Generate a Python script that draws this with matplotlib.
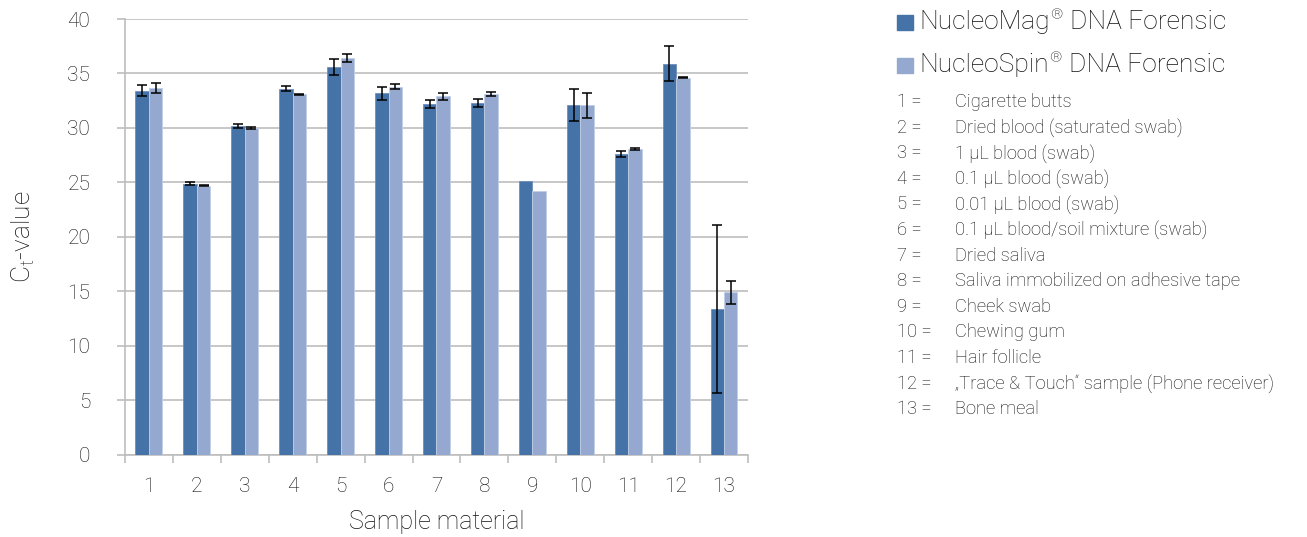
import numpy as np
import matplotlib
matplotlib.use("Agg")
import matplotlib.pyplot as plt
from matplotlib.patches import Rectangle

plt.rcParams['font.family'] = ['Roboto', 'DejaVu Sans']

samples = [str(i) for i in range(1, 14)]
mag = [33.4, 24.9, 30.2, 33.6, 35.6, 33.2, 32.2, 32.3, 25.1, 32.1, 27.6, 35.9, 13.4]
mag_err = [0.5, 0.1, 0.2, 0.25, 0.7, 0.6, 0.4, 0.4, np.nan, 1.45, 0.3, 1.6, 7.7]
spin = [33.7, 24.7, 30.0, 33.1, 36.4, 33.8, 32.9, 33.1, 24.2, 32.1, 28.1, 34.6, 14.9]
spin_err = [0.45, 0.05, 0.1, 0.05, 0.35, 0.2, 0.3, 0.2, np.nan, 1.15, 0.1, 0.05, 1.1]

series_names = ["NucleoMag", "NucleoSpin"]
sample_desc = [
    "Cigarette butts",
    "Dried blood (saturated swab)",
    "1 \u00b5L blood (swab)",
    "0.1 \u00b5L blood (swab)",
    "0.01 \u00b5L blood (swab)",
    "0.1 \u00b5L blood/soil mixture (swab)",
    "Dried saliva",
    "Saliva immobilized on adhesive tape",
    "Cheek swab",
    "Chewing gum",
    "Hair follicle",
    "\u201eTrace & Touch\u201c sample (Phone receiver)",
    "Bone meal",
]

c_mag = "#4573a7"
c_spin = "#95a9d0"
grid_c = "#bdbdbd"
txt_c = "#111111"

fig = plt.figure(figsize=(13.07, 5.37), dpi=100)
ax = fig.add_axes([0.0956, 0.153, 0.4767, 0.8116])

x = np.arange(len(samples))
w = 0.28
ekw = dict(ecolor="black", elinewidth=1.1, capsize=3.3, capthick=1.1)
ax.bar(x - w / 2, mag, w, yerr=mag_err, color=c_mag, edgecolor="#6f8fbb",
       linewidth=0.6, error_kw=ekw, zorder=3)
ax.bar(x + w / 2, spin, w, yerr=spin_err, color=c_spin, edgecolor="#c3cfe6",
       linewidth=0.6, error_kw=ekw, zorder=3)

ax.set_xlim(-0.5, len(samples) - 0.5)
ax.set_ylim(0, 40)
ax.set_yticks(range(0, 41, 5))
ax.yaxis.grid(True, color=grid_c, linewidth=1.2, zorder=0)
ax.set_axisbelow(True)

ax.set_xticks(x)
ax.set_xticklabels(samples)
ax.set_xticks(np.arange(-0.5, len(samples), 1.0), minor=True)
ax.tick_params(axis="x", which="major", length=0, pad=16, labelsize=15, labelcolor=txt_c)
ax.tick_params(axis="x", which="minor", length=6, width=1.2, color=grid_c, direction="out")
ax.tick_params(axis="y", length=6, width=1.2, color=grid_c, labelsize=15, labelcolor=txt_c, pad=19)
for lbl in ax.get_xticklabels() + ax.get_yticklabels():
    lbl.set_fontweight("light")

for s in ["top", "right"]:
    ax.spines[s].set_visible(False)
for s in ["left", "bottom"]:
    ax.spines[s].set_color(grid_c)
    ax.spines[s].set_linewidth(1.2)

ax.set_xlabel("Sample material", fontsize=18, color=txt_c, fontweight="light", labelpad=10)
ax.set_ylabel("C$_\\mathregular{t}$-value", fontsize=19, color=txt_c, fontweight="light", labelpad=22)

# legend
W, H = 1307.0, 537.0
fig.canvas.draw()
rend = fig.canvas.get_renderer()
for i, (name, col) in enumerate(zip(series_names, [c_mag, c_spin])):
    yc = 22 + i * 43
    fig.patches.append(Rectangle((897 / W, 1 - (yc + 8) / H), 15.5 / W, 15.5 / H,
                                 transform=fig.transFigure, color=col))
    t1 = fig.text(919 / W, 1 - yc / H, name, fontsize=19, color=txt_c,
                  fontweight="light", va="center", ha="left")
    x1 = t1.get_window_extent(rend).x1
    t2 = fig.text((x1 + 0.5) / W, 1 - (yc - 7) / H, "\u00ae", fontsize=11, color=txt_c,
                  fontweight="light", va="center", ha="left")
    x2 = t2.get_window_extent(rend).x1
    fig.text((x2 + 7) / W, 1 - yc / H, "DNA Forensic", fontsize=19, color=txt_c,
             fontweight="light", va="center", ha="left")

# sample list
for i, desc in enumerate(sample_desc):
    yc = 102 + i * 25.6
    fig.text(897 / W, 1 - yc / H, "%d =" % (i + 1), fontsize=13.2, color=txt_c,
             fontweight="light", va="center", ha="left")
    fig.text(955 / W, 1 - yc / H, desc, fontsize=13.2, color=txt_c,
             fontweight="light", va="center", ha="left")

fig.savefig("out.png", dpi=100)
